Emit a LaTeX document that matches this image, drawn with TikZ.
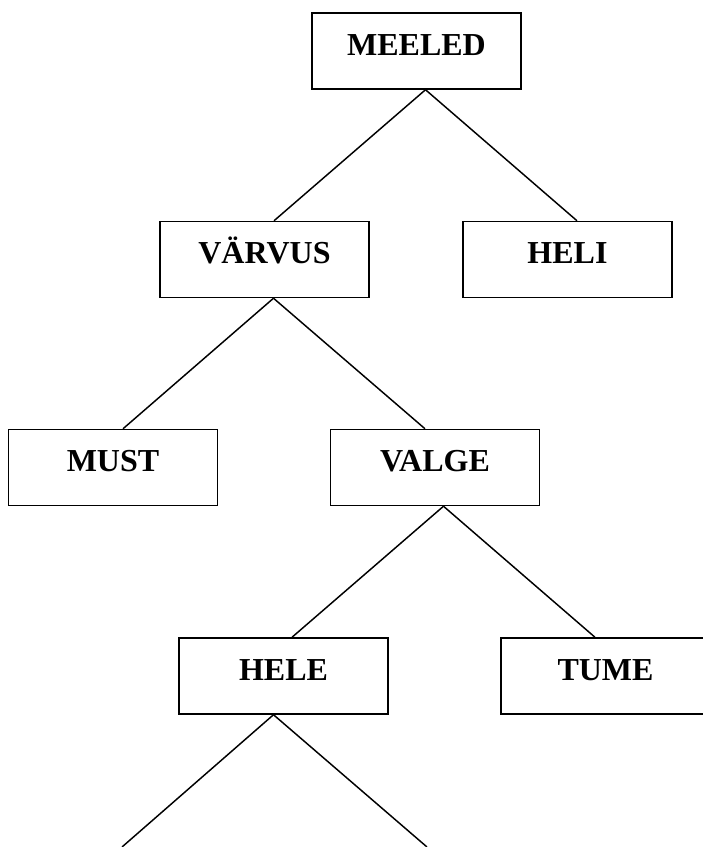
\documentclass[tikz,border=0pt]{standalone}
\usepackage{fontspec}
\setmainfont{Liberation Serif}
\usetikzlibrary{calc}
\tikzset{
  treebox/.style={draw, line width=1.1pt, rectangle, inner sep=0pt,
    minimum width=156.75pt, minimum height=57pt,
    text height=15.75pt, text depth=9.75pt,
    font=\fontsize{24pt}{28pt}\selectfont\bfseries},
  link/.style={line width=1.1pt}
}
\begin{document}
\begin{tikzpicture}[x=0.75pt, y=-0.75pt]
\useasboundingbox (0,0) rectangle (703,847);
\clip (0,0) rectangle (703,847);
\node[treebox] (meeled) at (416.5,51) {MEELED};
\node[treebox] (varvus) at (264.5,259.5) {VÄRVUS};
\node[treebox] (heli) at (567.5,259.5) {HELI};
\node[treebox] (must) at (113,467.5) {MUST};
\node[treebox] (valge) at (435,467.5) {VALGE};
\node[treebox] (hele) at (283.5,676) {HELE};
\node[treebox] (tume) at (605.5,676) {TUME};
\coordinate (endL) at (122,847);
\coordinate (endR) at (427,847);
\draw[link] ($(meeled.south)+(9,0)$) -- ($(varvus.north)+(9.5,0)$);
\draw[link] ($(meeled.south)+(9,0)$) -- ($(heli.north)+(9.5,0)$);
\draw[link] ($(varvus.south)+(9,0)$) -- ($(must.north)+(10,0)$);
\draw[link] ($(varvus.south)+(9,0)$) -- ($(valge.north)+(-10,0)$);
\draw[link] ($(valge.south)+(8.5,0)$) -- ($(hele.north)+(8.5,0)$);
\draw[link] ($(valge.south)+(8.5,0)$) -- ($(tume.north)+(-10.5,0)$);
\draw[link] ($(hele.south)+(-10,0)$) -- (endL);
\draw[link] ($(hele.south)+(-10,0)$) -- (endR);
\end{tikzpicture}
\end{document}
